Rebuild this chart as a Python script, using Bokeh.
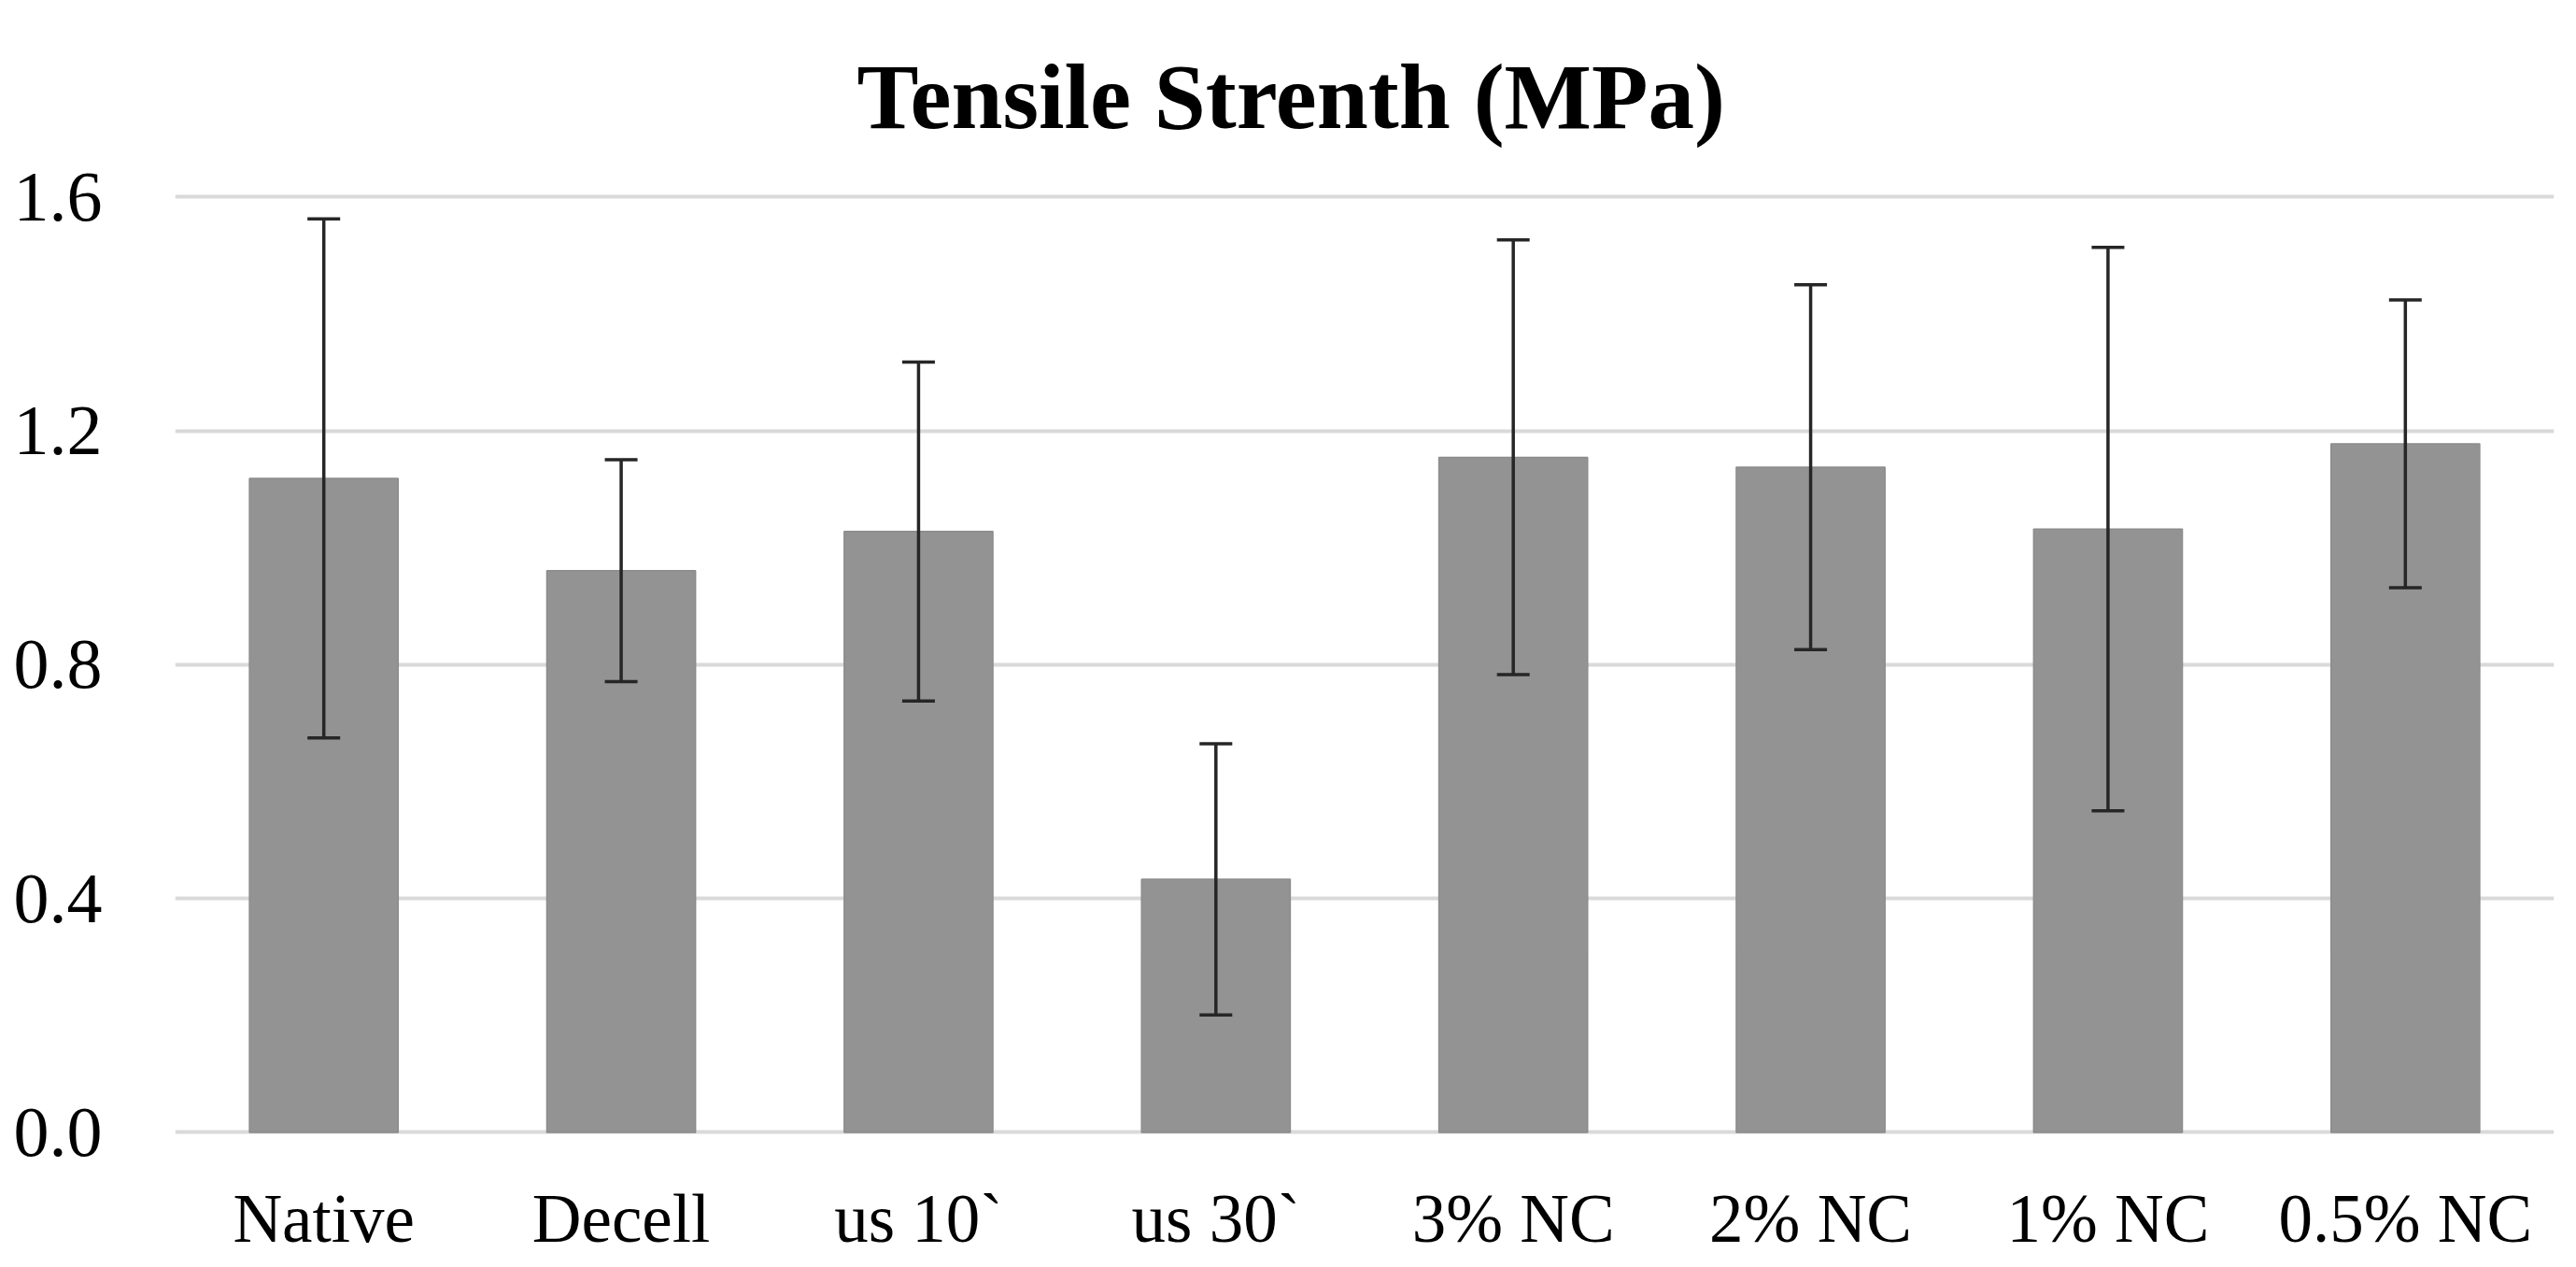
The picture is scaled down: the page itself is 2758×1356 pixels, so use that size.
from bokeh.plotting import figure
from bokeh.models import (ColumnDataSource, Whisker, TeeHead, FixedTicker, Range1d,
                          FactorRange, Title, PrintfTickFormatter, LinearAxis)
from bokeh.embed import file_html
from bokeh.resources import INLINE

categories = ["Native", "Decell", "us 10`", "us 30`", "3% NC", "2% NC", "1% NC", "0.5% NC"]
means = [1.119, 0.961, 1.028, 0.433, 1.155, 1.138, 1.032, 1.178]
errors = [0.444, 0.190, 0.290, 0.232, 0.372, 0.312, 0.482, 0.246]
y_ticks = [0.0, 0.4, 0.8, 1.2, 1.6]
title_text = "Tensile Strenth (MPa)"

upper = [m + e for m, e in zip(means, errors)]
lower = [m - e for m, e in zip(means, errors)]
source = ColumnDataSource(dict(cat=categories, mean=means, upper=upper, lower=lower))

p = figure(width=2742, height=1340, frame_width=2547, frame_height=1060,
           output_backend="svg", toolbar_location=None, title=None,
           x_range=FactorRange(*categories, range_padding=0),
           y_range=Range1d(-0.0089, 1.6855),
           min_border_left=187, min_border_right=8, min_border_top=157, min_border_bottom=123)

p.vbar(x="cat", top="mean", bottom=0, width=0.5, source=source,
       fill_color="#939393", line_color="#8c8c8c", line_width=1.5)

w = Whisker(base="cat", upper="upper", lower="lower", source=source, level="overlay",
            line_color="#262626", line_width=3.5,
            upper_head=TeeHead(size=35, line_color="#262626", line_width=3.5),
            lower_head=TeeHead(size=35, line_color="#262626", line_width=3.5))
p.add_layout(w)

t = Title(text=title_text, align="left", offset=730, vertical_align="bottom",
          text_font="Liberation Serif", text_font_size="99px", text_font_style="bold",
          text_color="black", standoff=0)
p.add_layout(t, "above")

# empty axis used only as a gap between the frame and the title
gap = LinearAxis(ticker=FixedTicker(ticks=[]), major_tick_out=44, major_tick_in=0,
                 major_label_standoff=0, axis_line_color=None,
                 major_tick_line_color=None, minor_tick_line_color=None)
p.add_layout(gap, "above")

p.outline_line_color = None
p.xgrid.grid_line_color = None
p.ygrid.grid_line_color = "#d9d9d9"
p.ygrid.grid_line_width = 4
p.ygrid.ticker = FixedTicker(ticks=y_ticks)

p.yaxis.ticker = FixedTicker(ticks=y_ticks)
p.yaxis.formatter = PrintfTickFormatter(format="%.1f")
for ax in (p.xaxis, p.yaxis):
    ax.axis_line_color = None
    ax.major_tick_line_color = None
    ax.minor_tick_line_color = None
    ax.major_label_text_font = "Liberation Serif"
    ax.major_label_text_color = "black"
p.xaxis.major_label_text_font_size = "73px"
p.yaxis.major_label_text_font_size = "76px"
p.xaxis.major_label_standoff = 40
p.yaxis.major_label_standoff = 72

open("out.html", "w").write(file_html(p, INLINE))
